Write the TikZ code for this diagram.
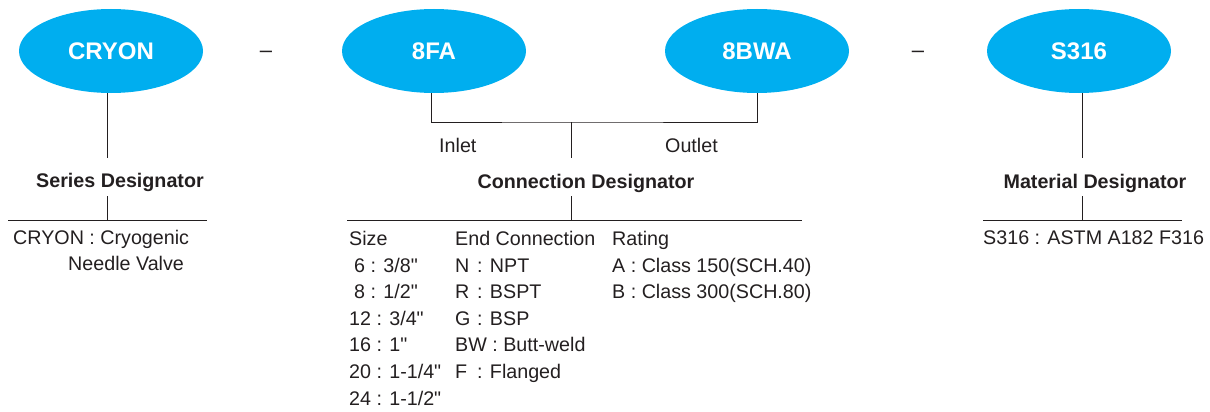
\documentclass[tikz,border=0pt]{standalone}
\usepackage{fontspec}
\setmainfont{Liberation Sans}[Ligatures=TeXOff]
\usepackage{xcolor}
\usetikzlibrary{shapes.geometric}
\definecolor{valveblue}{HTML}{00AEEF}
\definecolor{ink}{HTML}{231F20}
\newcommand{\ec}[2]{\makebox[22pt][l]{#1}: #2}

\begin{document}
\begin{tikzpicture}[x=1pt,y=-1pt,
    code/.style={ellipse,fill=valveblue,minimum width=184pt,minimum height=84pt,
      inner sep=0pt,text=white,font=\fontsize{24}{28}\selectfont\bfseries},
    txt/.style={anchor=base west,inner sep=0pt,text=ink,font=\fontsize{19.7}{23}\selectfont},
    hd/.style={anchor=base,inner sep=0pt,text=ink,font=\fontsize{19.7}{23}\selectfont\bfseries},
    wire/.style={draw=ink,line width=1pt}]
  \useasboundingbox (0,0) rectangle (1210,412);

  \node (cry) [code] at (111,51) {CRYON};
  \node (cfa) [code] at (434,51) {8FA};
  \node (cbw) [code] at (757,51) {8BWA};
  \node (mat) [code] at (1079,51) {S316};
  \node (da) [txt,anchor=base,font=\fontsize{22}{26}\selectfont] at (266,58) {–};
  \node (db) [txt,anchor=base,font=\fontsize{22}{26}\selectfont] at (918,58) {–};

  \node (sdh) [hd] at (120,187) {Series Designator};
  \node (cdh) [hd] at (586,188) {Connection Designator};
  \node (mdh) [hd] at (1095,188) {Material Designator};
  \node (inl) [txt] at (439,152) {Inlet};
  \node (outl) [txt] at (665,152) {Outlet};

  % series
  \node (cryt) [txt] at (13,244) {CRYON : Cryogenic};
  \node (nvt) [txt] at (68,270) {Needle Valve};
  % connection table
  \node (szh) [txt] at (349,245) {Size};
  \node (ech) [txt] at (455,245) {End Connection};
  \node (rth) [txt] at (612,245) {Rating};
  \node (s6) [txt] at (354,272) {6 : 3/8"};
  \node (s8) [txt] at (354,298.6) {8 : 1/2"};
  \node (s12) [txt] at (349,325.2) {12 : 3/4"};
  \node (s16) [txt] at (349,351.8) {16 : 1"};
  \node (s20) [txt] at (349,378.4) {20 : 1-1/4"};
  \node (s24) [txt] at (349,405) {24 : 1-1/2"};
  \node (en) [txt] at (455,272) {\ec{N}{NPT}};
  \node (er) [txt] at (455,298.6) {\ec{R}{BSPT}};
  \node (eg) [txt] at (455,325.2) {\ec{G}{BSP}};
  \node (ebw) [txt] at (455,351.8) {BW : Butt-weld};
  \node (ef) [txt] at (455,378.4) {\ec{F}{Flanged}};
  \node (ra) [txt] at (612,272) {A : Class 150(SCH.40)};
  \node (rb) [txt] at (612,298.6) {B : Class 300(SCH.80)};
  % material
  \node (mt) [txt] at (983,244) {S316 : ASTM A182 F316};

  \path ([xshift=-4pt]cry.south) coordinate (cryo) +(0,65) coordinate (sdi);
  \path (sdh.base) +(-13,9) coordinate (sdo) +(-13,33) coordinate (sdr);
  \draw[wire] (cryo) -- (sdi);
  \draw[wire] (sdo) -- (sdr);
  \draw[wire] (sdr) +(-99,0) -- +(100,0);

  \path ([xshift=-3pt]cfa.south) coordinate (cfao);
  \path (cfao |- 0,122) +(140,0) coordinate (bus);
  \draw[wire] (cfao) |- (bus) -| (cbw.south);
  \path (bus) +(0,36) coordinate (cdi);
  \path (cdh.base) +(-15,8) coordinate (cdo) +(-15,32) coordinate (cdr);
  \draw[wire] (bus) -- (cdi);
  \draw[wire] (cdo) -- (cdr);
  \draw[wire] (cdr) +(-224,0) -- +(231,0);

  \path ([xshift=3pt]mat.south) coordinate (mato) +(0,65) coordinate (mdi);
  \path (mdh.base) +(-13,8) coordinate (mdo) +(-13,32) coordinate (mdr);
  \draw[wire] (mato) -- (mdi);
  \draw[wire] (mdo) -- (mdr);
  \draw[wire] (mdr) +(-99,0) -- +(100,0);
\end{tikzpicture}
\end{document}
